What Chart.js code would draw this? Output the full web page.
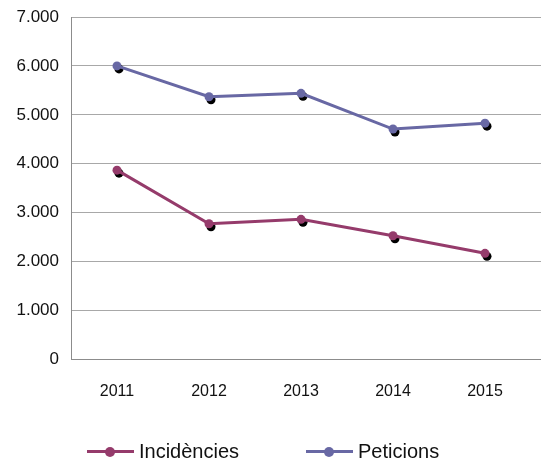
<!DOCTYPE html>
<html>
<head>
<meta charset="utf-8">
<script src="https://cdn.jsdelivr.net/npm/chart.js@4"></script>
<style>
    body { margin: 0; background: #fff; }
    #wrap { position: relative; width: 541px; height: 464px; }
    #legend { position: absolute; left: 0; top: 438px; width: 541px; height: 26px;
              font-family: 'Liberation Sans', Arial, sans-serif; font-size: 20px; color: #111; }
    .item { position: absolute; top: 0; height: 26px; line-height: 26px; white-space: nowrap; }
    .swatch { position: absolute; top: 12px; width: 47px; height: 3px; }
    .swatch i { position: absolute; left: 18px; top: -3.5px; width: 10px; height: 10px; border-radius: 50%; }
    .item span { position: absolute; left: 52px; top: 0; }
</style>
</head>
<body>
<div id="wrap">
    <canvas id="line_chart" width="541" height="464"></canvas>
    <div id="legend"></div>
</div>
<script>
const years       = ['2011', '2012', '2013', '2014', '2015'];
const incidencies = [3870, 2775, 2865, 2530, 2170];
const peticions   = [6000, 5370, 5440, 4710, 4830];
const yTicks      = [0, 1000, 2000, 3000, 4000, 5000, 6000, 7000];

const incColor = '#953B6B';
const petColor = '#6868A4';

// same rounding Chart.js uses for 1px grid lines
const align = px => Math.round(px - 0.5) + 0.5;

// black drop shadow under each marker, as in the original
const markerShadow = {
    id: 'markerShadow',
    beforeDatasetsDraw(chart) {
        const c = chart.ctx;
        c.save();
        c.fillStyle = '#000';
        chart.data.datasets.forEach((ds, i) => {
            chart.getDatasetMeta(i).data.forEach(pt => {
                c.beginPath();
                c.arc(pt.x + 2, pt.y + 3, 4.5, 0, Math.PI * 2);
                c.fill();
            });
        });
        c.restore();
    },
    afterDraw(chart) {
        // grid lines run on to the right edge of the picture
        const c = chart.ctx;
        const y = chart.scales.y;
        c.save();
        c.lineWidth = 1;
        yTicks.forEach(v => {
            const py = align(y.getPixelForValue(v));
            c.strokeStyle = v === 0 ? '#8C8C8C' : '#A8A8A8';
            c.beginPath();
            c.moveTo(chart.chartArea.right, py);
            c.lineTo(chart.width, py);
            c.stroke();
        });
        c.restore();
    }
};

const ctx = document.getElementById('line_chart');

new Chart(ctx, {
    type: 'line',
    data: {
        labels: years,
        datasets: [{
            label: 'Incidències',
            data: incidencies,
            borderColor: incColor,
            backgroundColor: incColor,
            borderWidth: 3,
            pointRadius: 4.5,
            pointBorderWidth: 0,
            tension: 0,
        }, {
            label: 'Peticions',
            data: peticions,
            borderColor: petColor,
            backgroundColor: petColor,
            borderWidth: 3,
            pointRadius: 4.5,
            pointBorderWidth: 0,
            tension: 0,
        }]
    },
    options: {
        responsive: false,
        animation: false,
        layout: { padding: { top: 17, right: 10, left: 0, bottom: 0 } },
        plugins: {
            legend: { display: false },
            tooltip: { enabled: false }
        },
        scales: {
            x: {
                offset: true,
                grid: { display: false, drawTicks: false },
                border: { display: true, color: '#8C8C8C', width: 1 },
                ticks: {
                    color: '#111',
                    padding: 22,
                    font: { family: "'Liberation Sans', Arial, sans-serif", size: 16 }
                },
                afterFit(scale) { scale.height = 104.5; }
            },
            y: {
                min: 0,
                max: 7000,
                afterBuildTicks(scale) { scale.ticks = yTicks.map(v => ({ value: v })); },
                grid: { color: '#A8A8A8', drawTicks: false },
                border: { display: true, color: '#8C8C8C', width: 1 },
                ticks: {
                    color: '#111',
                    padding: 12,
                    font: { family: "'Liberation Sans', Arial, sans-serif", size: 17 },
                    callback: function(value) {
                        return String(value).replace(/\B(?=(\d{3})+(?!\d))/g, '.');
                    }
                },
                afterFit(scale) {
                    scale.width = 71;
                    scale.paddingTop = 0;
                    scale.paddingBottom = 0;
                }
            }
        }
    },
    plugins: [markerShadow]
});

// legend: line with a dot, then the name
const legendItems = [
    { name: 'Incidències', color: incColor, left: 87 },
    { name: 'Peticions',   color: petColor, left: 306 }
];
const legend = document.getElementById('legend');
legendItems.forEach(it => {
    const d = document.createElement('div');
    d.className = 'item';
    d.style.left = it.left + 'px';
    d.innerHTML = '<div class="swatch" style="background:' + it.color + '"><i style="background:' +
        it.color + '"></i></div><span>' + it.name + '</span>';
    legend.appendChild(d);
});
</script>
</body>
</html>
